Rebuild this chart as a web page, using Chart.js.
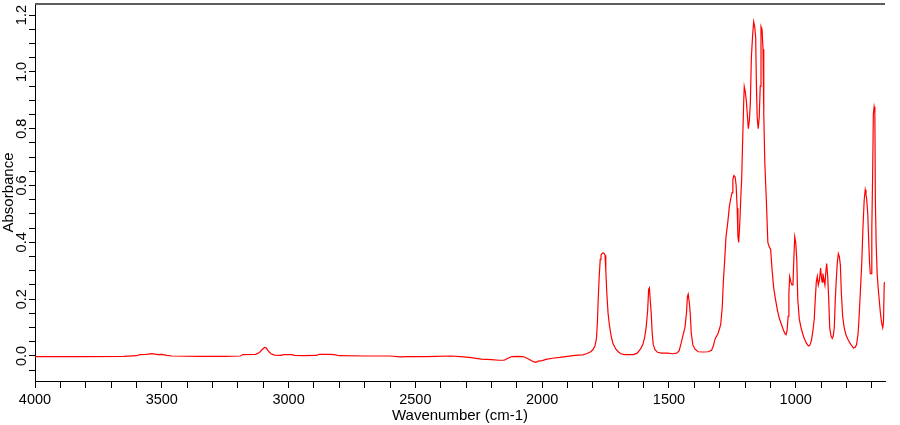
<!DOCTYPE html>
<html>
<head>
<meta charset="utf-8">
<title>Absorbance spectrum</title>
<script src="https://cdn.jsdelivr.net/npm/chart.js@4.4.0/dist/chart.umd.min.js"></script>
<style>
html, body { margin:0; padding:0; background:#fff; }
#wrap { width:900px; height:425px; position:relative; }
</style>
</head>
<body>
<div id="wrap"><canvas id="mycanvas"></canvas></div>
<script>
// spectrum (cm-1, absorbance)
var wavenumber = [
  4000, 3800, 3650, 3600, 3585, 3560, 3540, 3515, 3500, 3480, 3460, 3350, 3250, 3190, 3180, 3130,
  3115, 3105, 3095, 3088, 3080, 3070, 3055, 3030, 3020, 2990, 2975, 2940, 2890, 2880, 2840, 2820,
  2800, 2700, 2600, 2560, 2530, 2500, 2460, 2420, 2360, 2320, 2280, 2240, 2200, 2170, 2150, 2135,
  2120, 2100, 2075, 2060, 2045, 2035, 2025, 2015, 2000, 1985, 1960, 1930, 1900, 1870, 1840, 1825,
  1810, 1800, 1792, 1786, 1782, 1779, 1775, 1771, 1768, 1764, 1760, 1756, 1752, 1749, 1745, 1740,
  1735, 1728, 1721, 1710, 1700, 1690, 1675, 1640, 1625, 1612, 1603, 1596, 1590, 1584, 1580, 1577,
  1574, 1570, 1566, 1562, 1555, 1545, 1530, 1505, 1485, 1470, 1460, 1452, 1444, 1437, 1431, 1427,
  1424, 1420, 1416, 1412, 1406, 1398, 1385, 1365, 1345, 1332, 1325, 1318, 1306, 1296, 1290, 1285,
  1280, 1275, 1268, 1262, 1256, 1251, 1248, 1244, 1239, 1235, 1231, 1228, 1225, 1221, 1217, 1213,
  1209, 1205, 1203, 1199, 1195, 1191, 1187, 1183, 1179, 1175, 1170, 1166, 1162, 1158, 1155, 1152,
  1148, 1144, 1140, 1137, 1133, 1129, 1126, 1122, 1116, 1110, 1105, 1099, 1093, 1087, 1080, 1072,
  1064, 1056, 1048, 1042, 1038, 1034, 1030, 1027, 1024, 1019, 1015, 1011, 1008, 1004, 1000, 996,
  992, 986, 978, 968, 958, 950, 944, 938, 932, 927, 923, 919, 915, 911, 906, 902,
  899, 896, 893, 889, 885, 881, 878, 874, 870, 866, 861, 856, 852, 848, 844, 840,
  836, 832, 828, 824, 820, 815, 809, 802, 795, 786, 778, 772, 766, 760, 754, 750,
  745, 740, 735, 730, 726, 723, 720, 716, 712, 709, 706, 703, 700, 697, 694, 691,
  688, 686, 683, 679, 675, 671, 666, 661, 657, 654, 651, 648
];
var absorbance = [
  -0.002, -0.002, -0.001, 0.001, 0.005, 0.006, 0.008, 0.005, 0.006, 0.002, 0.000, -0.001, -0.001, 0.000, 0.005, 0.006,
  0.012, 0.022, 0.030, 0.028, 0.018, 0.008, 0.003, 0.002, 0.005, 0.005, 0.002, 0.001, 0.002, 0.006, 0.006, 0.005,
  0.001, 0.000, 0.000, -0.003, -0.002, -0.002, -0.002, -0.001, 0.000, -0.002, -0.006, -0.011, -0.013, -0.015, -0.015, -0.008,
  -0.002, -0.001, -0.002, -0.008, -0.015, -0.020, -0.022, -0.018, -0.016, -0.012, -0.008, -0.005, -0.001, 0.002, 0.004, 0.008,
  0.014, 0.022, 0.035, 0.06, 0.12, 0.20, 0.28, 0.34, 0.355, 0.36, 0.363, 0.362, 0.355, 0.30, 0.22, 0.15,
  0.11, 0.07, 0.045, 0.025, 0.015, 0.008, 0.005, 0.005, 0.010, 0.025, 0.04, 0.065, 0.10, 0.16, 0.235, 0.24,
  0.20, 0.15, 0.08, 0.04, 0.022, 0.013, 0.010, 0.010, 0.008, 0.010, 0.018, 0.045, 0.075, 0.10, 0.15, 0.21,
  0.218, 0.19, 0.15, 0.08, 0.04, 0.025, 0.015, 0.014, 0.015, 0.02, 0.035, 0.06, 0.08, 0.11, 0.17, 0.27,
  0.34, 0.42, 0.47, 0.525, 0.555, 0.575, 0.62, 0.635, 0.63, 0.60, 0.52, 0.42, 0.40, 0.46, 0.55, 0.63,
  0.77, 0.90, 0.948, 0.93, 0.90, 0.85, 0.80, 0.83, 0.89, 1.05, 1.13, 1.176, 1.16, 1.12, 0.95, 0.84,
  0.80, 0.84, 0.95, 1.16, 1.15, 1.08, 0.85, 0.68, 0.55, 0.40, 0.385, 0.375, 0.30, 0.24, 0.20, 0.16,
  0.13, 0.11, 0.09, 0.078, 0.075, 0.09, 0.14, 0.22, 0.28, 0.26, 0.25, 0.25, 0.33, 0.42, 0.40, 0.34,
  0.20, 0.13, 0.095, 0.065, 0.045, 0.035, 0.038, 0.055, 0.09, 0.13, 0.20, 0.26, 0.28, 0.25, 0.27, 0.31,
  0.28, 0.26, 0.29, 0.27, 0.25, 0.30, 0.325, 0.28, 0.20, 0.10, 0.07, 0.062, 0.07, 0.10, 0.20, 0.27,
  0.33, 0.36, 0.35, 0.32, 0.22, 0.14, 0.10, 0.075, 0.06, 0.045, 0.035, 0.028, 0.03, 0.040, 0.08, 0.14,
  0.23, 0.32, 0.45, 0.55, 0.585, 0.57, 0.55, 0.50, 0.40, 0.33, 0.29, 0.29, 0.45, 0.62, 0.85, 0.877,
  0.86, 0.55, 0.40, 0.29, 0.24, 0.20, 0.15, 0.115, 0.10, 0.12, 0.256, 0.26
];
var xTickLabels = [4000, 3500, 3000, 2500, 2000, 1500, 1000];
var yTickLabels = ["0.0", "0.2", "0.4", "0.6", "0.8", "1.0", "1.2"];
var xTitle = "Wavenumber (cm-1)";
var yTitle = "Absorbance";

var points = [];
for (var i = 0; i < wavenumber.length; i++) {
  points.push({x: wavenumber[i], y: absorbance[i]});
}

var FONT = "Arial, 'Liberation Sans', sans-serif";

// rotated y labels, axis titles and the grey top line
var axisText = {
  id: 'axisText',
  afterDraw: function(chart) {
    var ctx = chart.ctx;
    var area = chart.chartArea;
    var ys = chart.scales.y;
    ctx.save();
    ctx.strokeStyle = '#5c5c5c';
    ctx.lineWidth = 2;
    ctx.beginPath();
    ctx.moveTo(area.left, area.top);
    ctx.lineTo(area.right, area.top);
    ctx.stroke();

    ctx.fillStyle = '#000';
    ctx.textAlign = 'center';
    ctx.textBaseline = 'middle';
    ctx.font = '14.5px ' + FONT;
    for (var k = 0; k < yTickLabels.length; k++) {
      var py = ys.getPixelForValue(parseFloat(yTickLabels[k]));
      ctx.save();
      ctx.translate(22, py);
      ctx.rotate(-Math.PI / 2);
      ctx.fillText(yTickLabels[k], 0, 0);
      ctx.restore();
    }

    ctx.font = '15px ' + FONT;
    ctx.save();
    ctx.translate(9, (area.top + area.bottom) / 2);
    ctx.rotate(-Math.PI / 2);
    ctx.fillText(yTitle, 0, 0);
    ctx.restore();
    ctx.fillText(xTitle, (area.left + area.right) / 2, 416);
    ctx.restore();
  }
};

var ctx = document.getElementById('mycanvas');
var spectrum = new Chart(ctx, {
  type: 'line',
  data: {
    datasets: [{
      data: points,
      borderColor: '#ff0000',
      borderWidth: 1.2,
      pointRadius: 0,
      fill: false,
      tension: 0
    }]
  },
  options: {
    responsive: true,
    maintainAspectRatio: false,
    animation: false,
    events: [],
    layout: { padding: { top: 4, right: 15, left: 0, bottom: 0 } },
    plugins: { legend: { display: false }, tooltip: { enabled: false } },
    scales: {
      x: {
        type: 'linear',
        reverse: true,
        min: 648,
        max: 4000,
        afterFit: function(s) { s.height = 44; },
        border: { color: '#000', width: 1 },
        grid: { drawOnChartArea: false, drawTicks: true, tickLength: 7, tickColor: '#000' },
        ticks: {
          stepSize: 100,
          includeBounds: false,
          autoSkip: false,
          maxRotation: 0,
          padding: 3,
          color: '#000',
          font: { family: FONT, size: 14.5 },
          callback: function(v) {
            var r = Math.round(v);
            return xTickLabels.indexOf(r) >= 0 ? String(r) : '';
          }
        }
      },
      y: {
        type: 'linear',
        min: -0.088,
        max: 1.239,
        afterFit: function(s) { s.width = 35; },
        border: { color: '#000', width: 1 },
        grid: { drawOnChartArea: false, drawTicks: true, tickLength: 6, tickColor: '#000' },
        ticks: { stepSize: 0.05, includeBounds: false, display: false }
      }
    }
  },
  plugins: [axisText]
});
</script>
</body>
</html>
